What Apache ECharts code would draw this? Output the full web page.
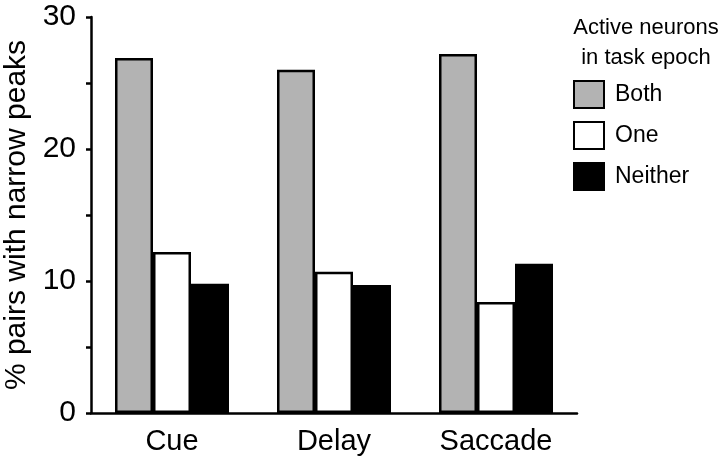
<!DOCTYPE html>
<html>
<head>
<meta charset="utf-8">
<script src="https://cdn.jsdelivr.net/npm/echarts@6/dist/echarts.min.js"></script>
<style>
  html, body { margin: 0; padding: 0; background: #fff; }
  #chart { width: 720px; height: 461px; }
</style>
</head>
<body>
<div id="chart"></div>
<script>
// data
var categories = ['Cue', 'Delay', 'Saccade'];
var both = [26.9, 26.0, 27.2];
var one = [12.2, 10.7, 8.4];
var neither = [9.8, 9.7, 11.3];
var yTicks = [0, 10, 20, 30];

var font = 'Liberation Sans, Arial, sans-serif';
var chart = echarts.init(document.getElementById('chart'));

function barSeries(name, data, fill) {
  return {
    name: name,
    type: 'bar',
    data: data,
    barWidth: 38,
    barGap: '0%',
    itemStyle: { color: fill, borderColor: '#000', borderWidth: 2.5 }
  };
}

chart.setOption({
  animation: false,
  backgroundColor: '#fff',
  textStyle: { fontFamily: font },
  title: {
    text: 'Active neurons\nin task epoch',
    left: 641,
    textAlign: 'center',
    top: 8,
    textStyle: { fontFamily: font, fontSize: 22, fontWeight: 'normal', color: '#000', lineHeight: 30 }
  },
  legend: {
    orient: 'vertical',
    left: 573,
    top: 80,
    padding: 0,
    itemWidth: 30,
    itemHeight: 27,
    itemGap: 12,
    icon: 'rect',
    textStyle: { fontFamily: font, fontSize: 23, color: '#000', padding: [0, 0, 0, 6] },
    data: ['Both', 'One', 'Neither']
  },
  grid: { left: 91, right: 143, top: 17, bottom: 48, outerBoundsMode: 'none' },
  xAxis: {
    type: 'category',
    data: categories,
    axisLine: { show: true, lineStyle: { color: '#000', width: 2.5 } },
    axisTick: { show: false },
    axisLabel: { fontFamily: font, fontSize: 29, color: '#000', margin: 14 }
  },
  yAxis: {
    type: 'value',
    min: 0,
    max: 30,
    interval: 5,
    name: '% pairs with narrow peaks',
    nameLocation: 'middle',
    nameGap: 54,
    nameTextStyle: { fontFamily: font, fontSize: 30, color: '#000' },
    splitLine: { show: false },
    axisLine: { show: true, lineStyle: { color: '#000', width: 2.5 } },
    axisTick: { show: true, length: 5, lineStyle: { color: '#000', width: 2.5 } },
    axisLabel: {
      fontFamily: font, fontSize: 30, color: '#000', margin: 15,
      formatter: function (v) { return yTicks.indexOf(v) >= 0 ? String(v) : ''; }
    }
  },
  series: [
    barSeries('Both', both, '#b3b3b3'),
    barSeries('One', one, '#ffffff'),
    barSeries('Neither', neither, '#000000')
  ]
});
</script>
</body>
</html>
